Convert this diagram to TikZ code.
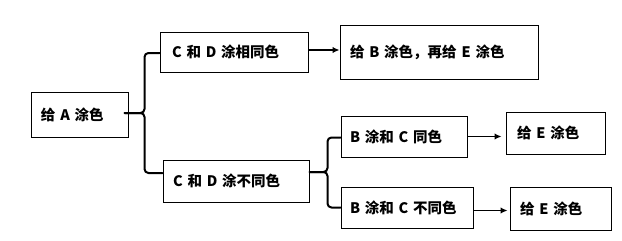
\documentclass[tikz,border=0pt]{standalone}
\usepackage{fontspec}
\setmainfont{Noto Sans CJK SC}
\usetikzlibrary{arrows.meta}
\begin{document}
\begin{tikzpicture}[x=1pt,y=-1pt,
  box/.style={draw=black,line width=1pt,inner ysep=0pt,align=left,
    font=\fontsize{14.5}{17}\selectfont\bfseries},
  brace/.style={line width=2pt,rounded corners=4pt,line cap=round},
  arr/.style={line width=1.5pt,-{Latex[length=7pt,width=6.5pt]}}]
\useasboundingbox (0,0) rectangle (622,241);
\node[box,minimum width=97,minimum height=45,inner xsep=10,text width=77] (a) at (79.5,114.5) {\raisebox{-2.5pt}{给 A 涂色}};
\node[box,minimum width=148,minimum height=40,inner xsep=12,text width=124] (cd1) at (234,52) {\raisebox{-6.5pt}{C 和 D 涂相同色}};
\node[box,minimum width=146,minimum height=42,inner xsep=10,text width=126] (cd2) at (236,181) {\raisebox{-3pt}{C 和 D 涂不同色}};
\node[box,minimum width=198,minimum height=54,inner xsep=10,text width=178] (be) at (439,52) {给 B 涂色，再给 E 涂色};
\node[box,minimum width=126,minimum height=41,inner xsep=9,text width=108] (bc1) at (404,136.5) {\raisebox{-5.5pt}{B 涂和 C 同色}};
\node[box,minimum width=99,minimum height=42,inner xsep=11,text width=77] (e1) at (555.5,133) {\raisebox{-5pt}{给 E 涂色}};
\node[box,minimum width=132,minimum height=41,inner xsep=9,text width=114] (bc2) at (407,207.5) {\raisebox{-4.5pt}{B 涂和 C 不同色}};
\node[box,minimum width=101,minimum height=43,inner xsep=10,text width=81] (e2) at (560.5,208.5) {\raisebox{-4.5pt}{给 E 涂色}};
\draw[brace] ([xshift=-4pt,yshift=1.5pt]a.east) -- ++(20,0) |- ([yshift=-1pt]cd1.west);
\draw[brace] ([xshift=-4pt,yshift=1.5pt]a.east) -- ++(20,0) |- ([yshift=8pt]cd2.west);
\draw[brace] ([yshift=9pt]cd2.east) -- ++(18,0) |- ([yshift=-1pt]bc1.west);
\draw[brace] ([yshift=9pt]cd2.east) -- ++(18,0) |- (bc2.west);
\draw[arr] ([yshift=2pt]cd1.east) -- ([yshift=2pt]cd1.east -| be.west);
\draw[arr,shorten >=4pt] (bc1.east) -- (bc1.east -| e1.west);
\draw[arr,shorten >=2pt] ([yshift=-3pt]bc2.east) -- ([yshift=-3pt]bc2.east -| e2.west);
\end{tikzpicture}
\end{document}
